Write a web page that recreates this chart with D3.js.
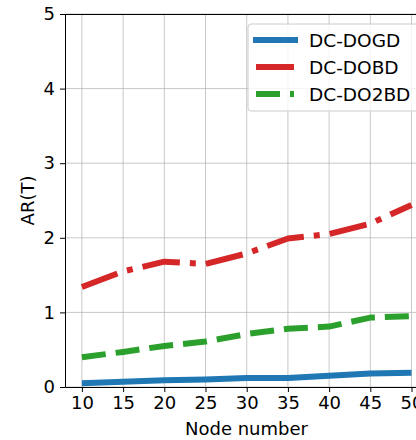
<!DOCTYPE html>
<html>
<head>
<meta charset="utf-8">
<script src="https://cdn.jsdelivr.net/npm/d3@7"></script>
<style>
  body { margin: 0; background: #fff; }
  svg { display: block; font-family: "DejaVu Sans", sans-serif; }
  .grid line { stroke: #b0b0b0; stroke-opacity: 0.7; stroke-width: 1; }
  .axis text { font-size: 18px; fill: #000; font-family: "DejaVu Sans", sans-serif; }
  .axis path, .axis line { stroke: #000; }
</style>
</head>
<body>
<div id="chart"></div>
<script>
// node counts on the x axis
var nodes = [10, 15, 20, 25, 30, 35, 40, 45, 50];
// AR(T) per method
var dogd = [0.05, 0.07, 0.09, 0.10, 0.12, 0.12, 0.15, 0.18, 0.19];
var dobd = [1.34, 1.55, 1.68, 1.65, 1.79, 1.99, 2.05, 2.19, 2.44];
var do2bd = [0.40, 0.47, 0.55, 0.61, 0.71, 0.78, 0.81, 0.93, 0.95];
var seriesNames = ["DC-DOGD", "DC-DOBD", "DC-DO2BD"];
var xTicks = [10, 15, 20, 25, 30, 35, 40, 45, 50];
var yTicks = [0, 1, 2, 3, 4, 5];

var width = 416, height = 440;
var margin = { top: 14, left: 65 };
var plotW = 363, plotH = 373;

var series = [
  { name: seriesNames[0], values: dogd, color: "#1f77b4", dash: null },
  { name: seriesNames[1], values: dobd, color: "#d62728", dash: "38,10,6,10" },
  { name: seriesNames[2], values: do2bd, color: "#2ca02c", dash: "24,10" }
];

var svg = d3.select("#chart").append("svg")
  .attr("width", width)
  .attr("height", height);

var x = d3.scaleLinear().domain([7.95, 52]).range([margin.left, margin.left + plotW]);
var y = d3.scaleLinear().domain([0, 5]).range([margin.top + plotH, margin.top]);

// grid
var grid = svg.append("g").attr("class", "grid");
grid.selectAll(".gx").data(xTicks).enter().append("line")
  .attr("x1", function (d) { return x(d); })
  .attr("x2", function (d) { return x(d); })
  .attr("y1", y(0)).attr("y2", y(5));
grid.selectAll(".gy").data(yTicks).enter().append("line")
  .attr("x1", x.range()[0]).attr("x2", x.range()[1])
  .attr("y1", function (d) { return y(d); })
  .attr("y2", function (d) { return y(d); });

// lines
var line = d3.line()
  .x(function (d, i) { return x(nodes[i]); })
  .y(function (d) { return y(d); });

svg.append("g").selectAll("path").data(series).enter().append("path")
  .attr("d", function (s) { return line(s.values); })
  .attr("fill", "none")
  .attr("stroke", function (s) { return s.color; })
  .attr("stroke-width", 6)
  .attr("stroke-linejoin", "round")
  .attr("stroke-dasharray", function (s) { return s.dash; });

// frame
svg.append("line")
  .attr("x1", x.range()[0]).attr("x2", x.range()[1])
  .attr("y1", y(5) + 0.5).attr("y2", y(5) + 0.5)
  .attr("stroke", "#000");

// axes
svg.append("g")
  .attr("class", "axis")
  .attr("transform", "translate(0," + y(0) + ")")
  .call(d3.axisBottom(x).tickValues(xTicks).tickSize(5).tickPadding(4).tickSizeOuter(0));

svg.append("g")
  .attr("class", "axis")
  .attr("transform", "translate(" + x.range()[0] + ",0)")
  .call(d3.axisLeft(y).tickValues(yTicks).tickFormat(d3.format("d")).tickSize(5).tickPadding(5).tickSizeOuter(0));

svg.append("text")
  .attr("x", (x.range()[0] + x.range()[1]) / 2)
  .attr("y", 435)
  .attr("text-anchor", "middle")
  .attr("font-size", 18)
  .text("Node number");

svg.append("text")
  .attr("transform", "translate(34," + (y(2.5)) + ") rotate(-90)")
  .attr("text-anchor", "middle")
  .attr("font-size", 18)
  .text("AR(T)");

// legend
var legend = svg.append("g").attr("transform", "translate(248,24)");
legend.append("rect")
  .attr("width", 180).attr("height", 87)
  .attr("rx", 3)
  .attr("fill", "#fff").attr("fill-opacity", 0.8)
  .attr("stroke", "#ccc");

var items = legend.selectAll(".item").data(series).enter().append("g")
  .attr("transform", function (s, i) { return "translate(0," + (16 + i * 27) + ")"; });
items.append("line")
  .attr("x1", function (s) { return s.dash ? 8 : 5; })
  .attr("x2", function (s) { return s.dash ? 46 : 50; })
  .attr("stroke", function (s) { return s.color; })
  .attr("stroke-width", 6)
  .attr("stroke-dasharray", function (s) { return s.dash; });
items.append("text")
  .attr("x", 61).attr("y", 6.5)
  .attr("font-size", 18.5)
  .text(function (s) { return s.name; });
</script>
</body>
</html>
